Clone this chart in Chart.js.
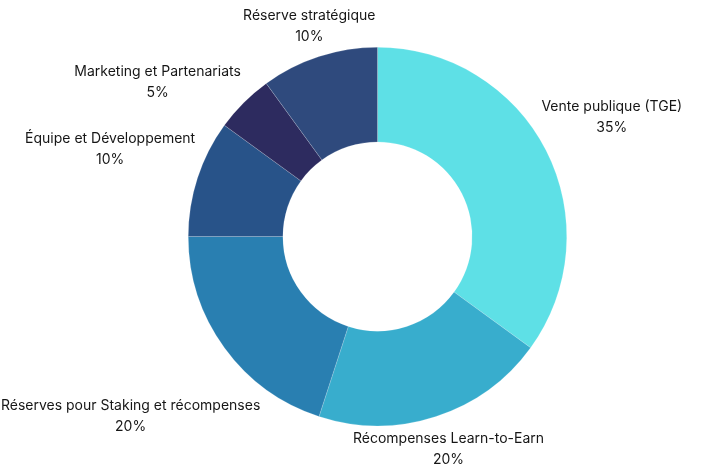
<!DOCTYPE html>
<html lang="fr">
<head>
<meta charset="utf-8">
<title>Répartition des jetons</title>
<script src="https://cdn.jsdelivr.net/npm/chart.js@4/dist/chart.umd.min.js"></script>
<style>
  html, body { margin: 0; padding: 0; background: #fff; }
  #wrap { width: 701px; height: 467px; position: relative; }
</style>
</head>
<body>
<div id="wrap"><canvas id="tokenChart"></canvas></div>
<script>
// données
const categories = [
    'Vente publique (TGE)',
    'Récompenses Learn-to-Earn',
    'Réserves pour Staking et récompenses',
    'Équipe et Développement',
    'Marketing et Partenariats',
    'Réserve stratégique'
];
const shares = [35, 20, 20, 10, 5, 10];
const sliceColors = ['#5ee0e6', '#38adcd', '#297fb1', '#285389', '#2d2b5f', '#2f4a7d'];

// étiquettes à l'extérieur de l'anneau (nom + pourcentage)
const outsideLabels = {
    id: 'outsideLabels',
    afterDatasetsDraw(chart, args, opts) {
        const ctx = chart.ctx;
        const meta = chart.getDatasetMeta(0);
        const lineH = opts.lineHeight;
        ctx.save();
        ctx.font = opts.font;
        ctx.fillStyle = opts.color;
        ctx.textAlign = 'center';
        ctx.textBaseline = 'middle';

        const boxes = meta.data.map((arc, i) => {
            const lines = [chart.data.labels[i], chart.data.datasets[0].data[i] + '%'];
            const hw = Math.max(...lines.map(l => ctx.measureText(l).width)) / 2;
            return { i, arc, lines, hw, hh: lineH * lines.length / 2,
                     angle: (arc.startAngle + arc.endAngle) / 2 };
        });

        function place(b) {
            const vx = Math.cos(b.angle), vy = Math.sin(b.angle);
            const d = b.arc.outerRadius + opts.gap + b.hw * Math.abs(vx);
            b.cx = b.arc.x + vx * d;
            b.cy = b.arc.y + vy * d;
            // rester dans le canvas
            b.cy = Math.min(b.cy, chart.height - b.hh + 3);
            b.cy = Math.max(b.cy, b.hh - 3);
        }
        function overlaps(a, b) {
            return Math.abs(a.cx - b.cx) < a.hw + b.hw &&
                   Math.abs(a.cy - b.cy) < a.hh + b.hh + opts.pad;
        }

        // les grosses parts d'abord, les petites s'écartent si besoin
        const order = boxes.slice().sort((a, b) => shares[b.i] - shares[a.i]);
        const placed = [];
        order.forEach(b => {
            place(b);
            let n = 0;
            let hit = placed.find(p => overlaps(b, p));
            while (hit && n < 90) {
                b.angle += (b.angle < hit.angle ? -1 : 1) * Math.PI / 180;
                place(b);
                hit = placed.find(p => overlaps(b, p));
                n++;
            }
            placed.push(b);
        });

        boxes.forEach(b => {
            b.lines.forEach((l, k) => {
                ctx.fillText(l, b.cx, b.cy - b.hh + lineH * (k + 0.5));
            });
        });
        ctx.restore();
    }
};

new Chart(document.getElementById('tokenChart'), {
    type: 'doughnut',
    data: {
        labels: categories,
        datasets: [{
            data: shares,
            backgroundColor: sliceColors,
            borderColor: 'rgba(255,255,255,0.35)',
            borderWidth: 0.5
        }]
    },
    options: {
        responsive: true,
        maintainAspectRatio: false,
        animation: false,
        cutout: '50%',
        layout: { padding: { left: 98, right: 44, top: 47, bottom: 41 } },
        plugins: {
            legend: { display: false },
            tooltip: { enabled: false },
            outsideLabels: {
                font: '14px Inter, "Noto Sans", sans-serif',
                color: '#161616',
                lineHeight: 21,
                gap: 11,
                pad: 18
            }
        }
    },
    plugins: [outsideLabels]
});
</script>
</body>
</html>
